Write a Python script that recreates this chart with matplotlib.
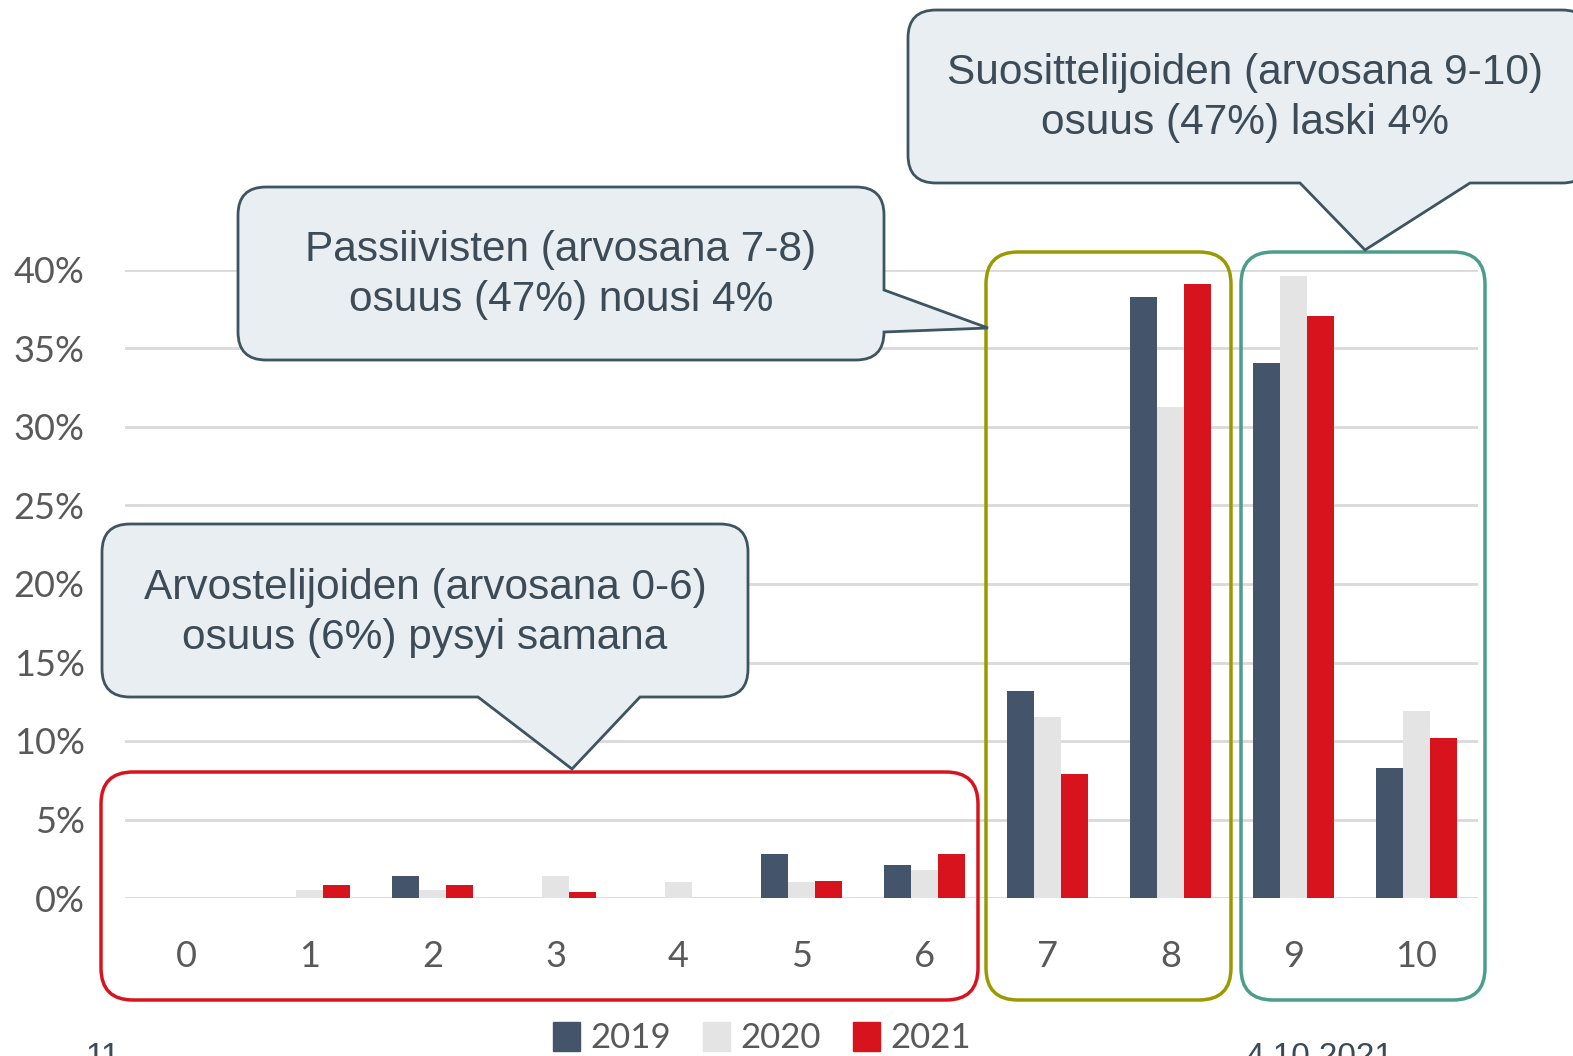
import numpy as np
import matplotlib
matplotlib.use('Agg')
import matplotlib.pyplot as plt
from matplotlib.path import Path
from matplotlib.patches import PathPatch, FancyBboxPatch, Patch

# arvosanat 0-10, osuus vastaajista (%)
arvosanat = ['0', '1', '2', '3', '4', '5', '6', '7', '8', '9', '10']
v2019 = [0.0, 0.0, 1.4, 0.0, 0.0, 2.8, 2.1, 13.2, 38.3, 34.1, 8.3]
v2020 = [0.0, 0.5, 0.5, 1.4, 1.0, 1.0, 1.8, 11.5, 31.3, 39.6, 11.9]
v2021 = [0.0, 0.8, 0.8, 0.4, 0.0, 1.1, 2.8, 7.9, 39.1, 37.1, 10.2]
vuodet = ['2019', '2020', '2021']
varit = ['#44546a', '#e4e4e4', '#d7141e']
y_ticks = [0, 5, 10, 15, 20, 25, 30, 35, 40]

W, H = 1573, 1056
fig = plt.figure(figsize=(W / 100, H / 100), dpi=100)
ax = fig.add_axes([125 / W, 1 - 898 / H, (1478 - 125) / W, (898 - 270) / H])

x = np.arange(len(arvosanat))
bw = 0.22
for i, (arvot, vari) in enumerate(zip([v2019, v2020, v2021], varit)):
    ax.bar(x + (i - 1) * bw, arvot, bw, color=vari, zorder=3)

ax.set_xlim(-0.5, 10.5)
ax.set_ylim(0, 40)
ax.set_yticks(y_ticks)
ax.set_yticklabels([f'{t}%' for t in y_ticks])
ax.set_xticks(x)
ax.set_xticklabels(arvosanat)
ax.grid(axis='y', color='#d9d9d9', linewidth=2, zorder=0)
ax.set_axisbelow(True)
for s in ax.spines.values():
    s.set_visible(False)
ax.tick_params(length=0, labelsize=26, labelcolor='#595959')
ax.tick_params(axis='x', pad=30)
ax.tick_params(axis='y', pad=29)
for lbl in ax.get_xticklabels() + ax.get_yticklabels():
    lbl.set_fontfamily('Lato')

# overlay pikselikoordinaateissa kehyksille ja puhekuplille
ov = fig.add_axes([0, 0, 1, 1], facecolor='none')
ov.set_xlim(0, W)
ov.set_ylim(H, 0)
ov.axis('off')


def kehys(x0, y0, x1, y1, vari):
    ov.add_patch(FancyBboxPatch((x0, y0), x1 - x0, y1 - y0,
                                boxstyle='round,pad=0,rounding_size=32',
                                fc='none', ec=vari, lw=2.5, zorder=4))


kehys(101, 772, 978, 1000, '#d7141e')
kehys(986, 252, 1231, 1000, '#9a9a00')
kehys(1241, 252, 1485, 1000, '#4a9e8a')


def kupla(x0, y0, x1, y1, puoli, a, b, karki, r=28):
    M, L, C = Path.MOVETO, Path.LINETO, Path.CURVE3
    v = [(x0 + r, y0), (x1 - r, y0), (x1, y0), (x1, y0 + r)]
    c = [M, L, C, C]
    if puoli == 'oikea':
        v += [(x1, a), karki, (x1, b)]
        c += [L, L, L]
    v += [(x1, y1 - r), (x1, y1), (x1 - r, y1)]
    c += [L, C, C]
    if puoli == 'ala':
        v += [(b, y1), karki, (a, y1)]
        c += [L, L, L]
    v += [(x0 + r, y1), (x0, y1), (x0, y1 - r), (x0, y0 + r), (x0, y0), (x0 + r, y0), (x0 + r, y0)]
    c += [L, C, C, L, C, C, Path.CLOSEPOLY]
    ov.add_patch(PathPatch(Path(v, c), fc='#e8eef2', ec='#3d5461', lw=2, zorder=6))


kupla(238, 187, 884, 360, 'oikea', 290, 332, (988, 328))
kupla(908, 10, 1590, 183, 'ala', 1300, 1470, (1365, 250))
kupla(102, 524, 748, 697, 'ala', 478, 640, (572, 769))

tekstit = [
    (561, 275, 'Passiivisten (arvosana 7-8)\nosuus (47%) nousi 4%'),
    (1245, 98, 'Suosittelijoiden (arvosana 9-10)\nosuus (47%) laski 4%'),
    (425, 613, 'Arvostelijoiden (arvosana 0-6)\nosuus (6%) pysyi samana'),
]
for tx, ty, t in tekstit:
    ov.text(tx, ty, t, ha='center', va='center', fontsize=30.5, color='#3d4b57',
            family='Liberation Sans', linespacing=1.32, zorder=7)

# legenda alareunassa
kahvat = [Patch(color=c) for c in varit]
fig.legend(kahvat, vuodet, loc='center', bbox_to_anchor=(762 / W, 1 - 1038 / H),
           ncol=3, frameon=False, handlelength=0.8, handleheight=0.9,
           handletextpad=0.3, columnspacing=0.9, labelcolor='#595959',
           borderaxespad=0, borderpad=0, prop={'family': 'Lato', 'size': 25})

# alareunan leikkautunut teksti
ov.text(85, 1042, '11', fontsize=24, color='#3d4b57', va='top', family='Liberation Sans')
ov.text(1245, 1042, '4.10.2021', fontsize=24, color='#3d4b57', va='top', family='Liberation Sans')

fig.savefig('out.png', dpi=100)
